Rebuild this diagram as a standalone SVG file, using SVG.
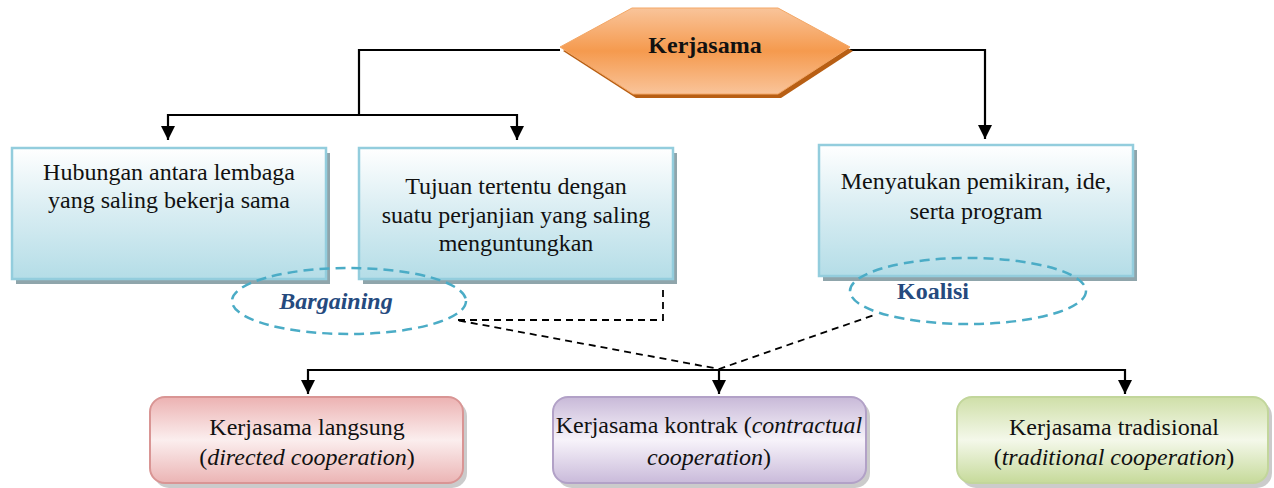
<svg xmlns="http://www.w3.org/2000/svg" width="1274" height="488" viewBox="0 0 1274 488">
<defs>
<linearGradient id="gOrange" x1="0" y1="0" x2="0" y2="1">
<stop offset="0" stop-color="#f9c49a"/><stop offset="0.5" stop-color="#f59a4e"/><stop offset="1" stop-color="#f9c49a"/>
</linearGradient>
<linearGradient id="gBlue" x1="0" y1="0" x2="0" y2="1">
<stop offset="0" stop-color="#ffffff"/><stop offset="0.45" stop-color="#dbeef3"/><stop offset="1" stop-color="#b4dde7"/>
</linearGradient>
<linearGradient id="gPink" x1="0" y1="0" x2="0" y2="1">
<stop offset="0" stop-color="#ecb2b2"/><stop offset="0.5" stop-color="#fbeeee"/><stop offset="1" stop-color="#ebb4b4"/>
</linearGradient>
<linearGradient id="gPurple" x1="0" y1="0" x2="0" y2="1">
<stop offset="0" stop-color="#c8b9d8"/><stop offset="0.5" stop-color="#f7f3fa"/><stop offset="1" stop-color="#c9bada"/>
</linearGradient>
<linearGradient id="gGreen" x1="0" y1="0" x2="0" y2="1">
<stop offset="0" stop-color="#cfdfa8"/><stop offset="0.5" stop-color="#f4f8ea"/><stop offset="1" stop-color="#c6da9a"/>
</linearGradient>
<marker id="arr" viewBox="0 0 10 10" refX="10" refY="5" markerWidth="6.5" markerHeight="6.5" markerUnits="strokeWidth" orient="auto">
<path d="M0,0 L10,5 L0,10 Z" fill="#000"/>
</marker>
<style>
text{font-family:"Liberation Serif","Times New Roman",serif;font-size:24px;fill:#111;text-anchor:middle}
.b{stroke:#93cddd;stroke-width:2.5;fill:url(#gBlue)}
.sh{fill:#8fa5ab}
.el{fill:none;stroke:#4bacc6;stroke-width:2.5;stroke-dasharray:10,6}
.lbl{font-weight:bold;fill:#254a7e}
.conn{fill:none;stroke:#000;stroke-width:2.2}
.dash{fill:none;stroke:#000;stroke-width:1.8;stroke-dasharray:7,5}
</style>
</defs>

<g id="connectors">
<path class="conn" d="M560,50 H359 V115"/>
<path class="conn" d="M359,115 H168 V140" marker-end="url(#arr)"/>
<path class="conn" d="M359,115 H517 V140" marker-end="url(#arr)"/>
<path class="conn" d="M850,50 H985 V139" marker-end="url(#arr)"/>
<path class="conn" d="M719,370 H308 V394" marker-end="url(#arr)"/>
<path class="conn" d="M719,370 H1125 V394" marker-end="url(#arr)"/>
<path class="conn" d="M719,370 V394" marker-end="url(#arr)"/>
<path class="dash" d="M663,290 V320 H456 L719,369 L877,314"/>
</g>

<g id="kerjasama">
<polygon points="563,51 635,12 781,12 853,51 781,98 636,98" fill="#b85f14"/>
<polygon points="560,47 632,8 778,8 850,47 778,94 633,94" fill="url(#gOrange)" stroke="#f3a766" stroke-width="1"/>
<text x="705" y="53" font-weight="bold">Kerjasama</text>
</g>

<g id="box1">
<rect class="sh" x="16" y="153" width="314" height="131"/>
<rect class="b" x="12" y="148" width="314" height="131"/>
<text x="169" y="180">Hubungan antara lembaga</text>
<text x="169" y="208">yang saling bekerja sama</text>
</g>

<g id="box2">
<rect class="sh" x="363" y="153" width="314" height="131"/>
<rect class="b" x="359" y="148" width="314" height="131"/>
<text x="516" y="194">Tujuan tertentu dengan</text>
<text x="516" y="223">suatu perjanjian yang saling</text>
<text x="516" y="251">menguntungkan</text>
</g>

<g id="box3">
<rect class="sh" x="823" y="150" width="314" height="131"/>
<rect class="b" x="819" y="145" width="314" height="131"/>
<text x="976" y="189">Menyatukan pemikiran, ide,</text>
<text x="976" y="219">serta program</text>
</g>

<g id="bargaining">
<ellipse class="el" cx="349" cy="301" rx="117" ry="33"/>
<text class="lbl" x="336" y="309" font-style="italic">Bargaining</text>
</g>

<g id="koalisi">
<ellipse class="el" cx="968" cy="291" rx="118" ry="33"/>
<text class="lbl" x="933" y="299" font-size="26">Koalisi</text>
</g>

<g id="langsung">
<rect x="154" y="401" width="313" height="87" rx="15" fill="#a9a9a9" opacity="0.6"/>
<rect x="150" y="397" width="313" height="86" rx="15" fill="url(#gPink)" stroke="#d99594" stroke-width="2"/>
<text x="307" y="435">Kerjasama langsung</text>
<text x="307" y="465">(<tspan font-style="italic">directed cooperation</tspan>)</text>
</g>

<g id="kontrak">
<rect x="557" y="401" width="313" height="87" rx="15" fill="#a9a9a9" opacity="0.6"/>
<rect x="553" y="397" width="313" height="86" rx="15" fill="url(#gPurple)" stroke="#b2a1c7" stroke-width="2"/>
<text x="709" y="433">Kerjasama kontrak (<tspan font-style="italic">contractual</tspan></text>
<text x="709" y="465"><tspan font-style="italic">cooperation</tspan>)</text>
</g>

<g id="tradisional">
<rect x="961" y="401" width="311" height="87" rx="15" fill="#a9a9a9" opacity="0.6"/>
<rect x="957" y="397" width="311" height="86" rx="15" fill="url(#gGreen)" stroke="#c2d69b" stroke-width="2"/>
<text x="1114" y="435">Kerjasama tradisional</text>
<text x="1114" y="465">(<tspan font-style="italic">traditional cooperation</tspan>)</text>
</g>
</svg>
